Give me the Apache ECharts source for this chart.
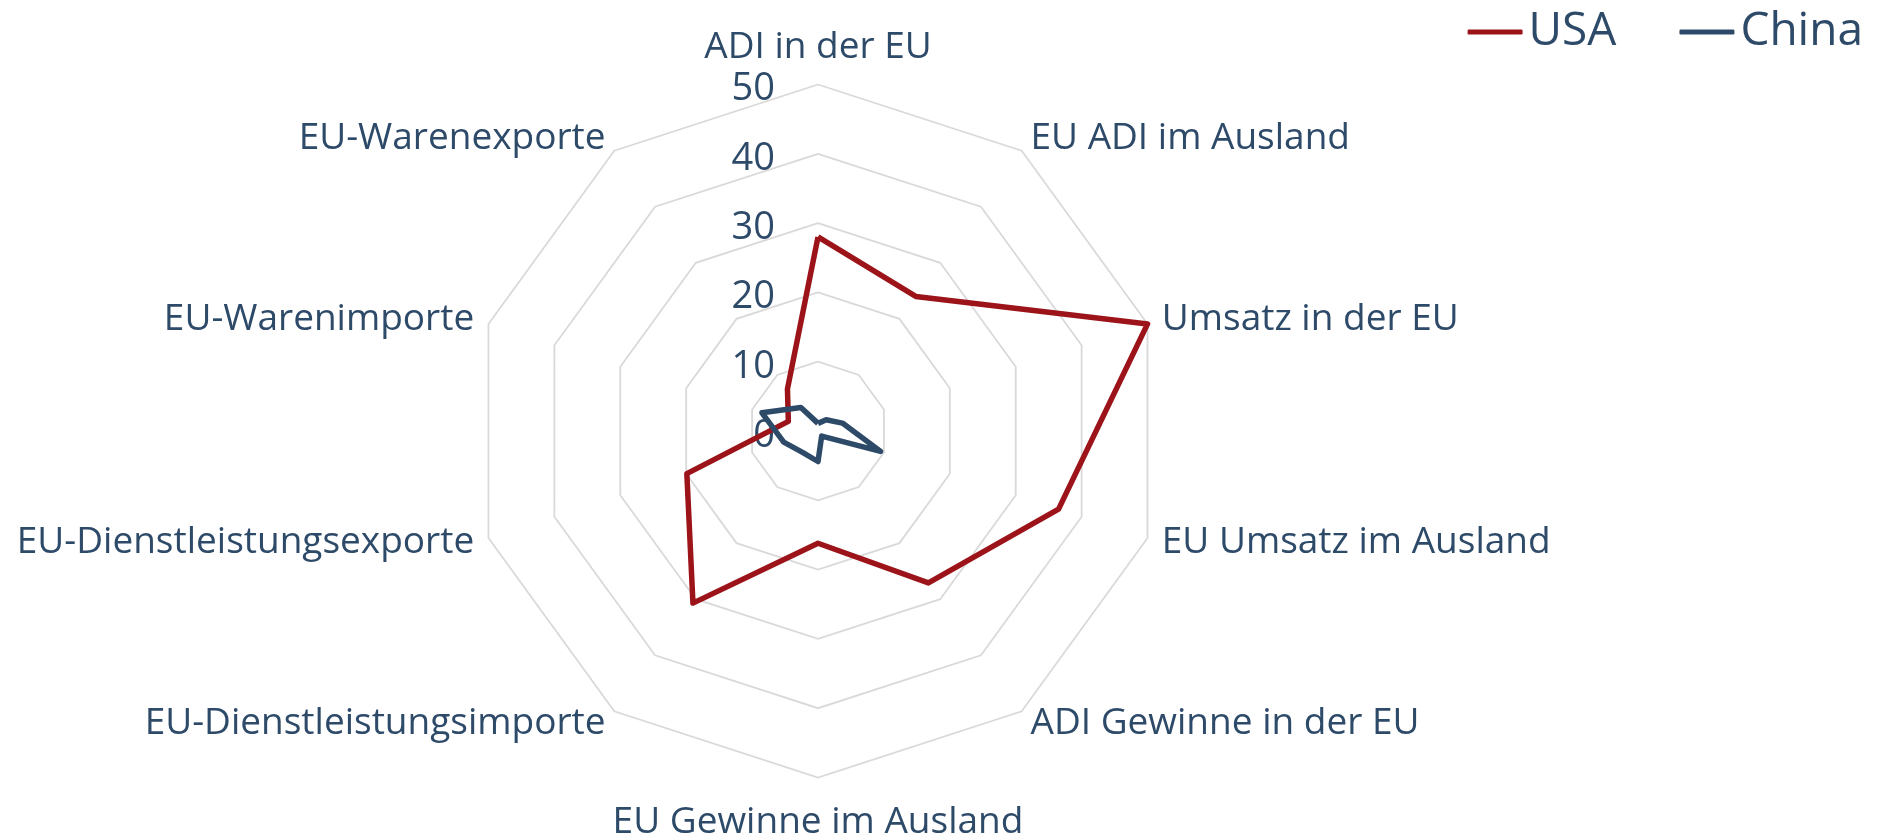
<!DOCTYPE html>
<html>
<head>
<meta charset="utf-8">
<script src="https://cdn.jsdelivr.net/npm/echarts@6/dist/echarts.min.js"></script>
<style>
  html, body { margin: 0; padding: 0; background: #fff; }
  #chart { width: 1884px; height: 836px; }
</style>
</head>
<body>
<div id="chart"></div>
<script>
// Achsen, gegen den Uhrzeigersinn ab oben (so legt ECharts die Radar-Achsen)
var indicators = ['ADI in der EU', 'EU-Warenexporte', 'EU-Warenimporte',
  'EU-Dienstleistungsexporte', 'EU-Dienstleistungsimporte', 'EU Gewinne im Ausland',
  'ADI Gewinne in der EU', 'EU Umsatz im Ausland', 'Umsatz in der EU', 'EU ADI im Ausland'];
var usa = [28, 7.5, 4.5, 19.9, 30.7, 16.2, 27.1, 36.5, 50, 24];
var china = [1.1, 4.2, 8.5, 5.2, 3.8, 4.4, 0.9, 9.5, 3.7, 2.0];
var axisMax = 50;

var textColor = '#2e4a69';
var font = '"Open Sans", sans-serif';

var myChart = echarts.init(document.getElementById('chart'));

var indicatorList = indicators.map(function (name, i) {
    var item = { name: name, min: 0, max: axisMax };
    // oben und unten etwas mehr Abstand
    if (i === 0) item.nameGap = 19;
    if (i === 5) item.nameGap = 26;
    // Werte nur an der ersten Achse
    if (i === 0) {
        item.axisLabel = {
            show: true,
            margin: 43,
            color: textColor,
            fontSize: 38,
            fontFamily: font,
            verticalAlign: 'top',
            lineHeight: 10
        };
    }
    return item;
});

var option = {
    animation: false,
    legend: {
        right: 16,
        top: 4,
        itemWidth: 55,
        itemHeight: 5,
        itemGap: 63,
        icon: 'roundRect',
        textStyle: { color: textColor, fontSize: 46, fontFamily: font, padding: [0, 0, 0, 1] },
        data: ['USA', 'China']
    },
    radar: {
        center: [818, 431],
        radius: 346.5,
        startAngle: 90,
        shape: 'polygon',
        splitNumber: 5,
        nameGap: 15,
        axisName: { color: textColor, fontSize: 37, fontFamily: font },
        axisLine: { show: false },
        axisTick: { show: false },
        axisLabel: { show: false },
        splitArea: { show: false },
        splitLine: { lineStyle: { color: '#d9d9d9', width: 1.8 } },
        indicator: indicatorList
    },
    series: [{
        type: 'radar',
        symbol: 'none',
        lineStyle: { width: 5.5 },
        data: [
            { name: 'USA', value: usa,
              itemStyle: { color: '#9c1419' },
              lineStyle: { color: '#9c1419', width: 5.5, join: 'round' } },
            { name: 'China', value: china,
              itemStyle: { color: '#2e4a69' },
              lineStyle: { color: '#2e4a69', width: 5.5, join: 'round' } }
        ]
    }]
};
myChart.setOption(option);
</script>
</body>
</html>
